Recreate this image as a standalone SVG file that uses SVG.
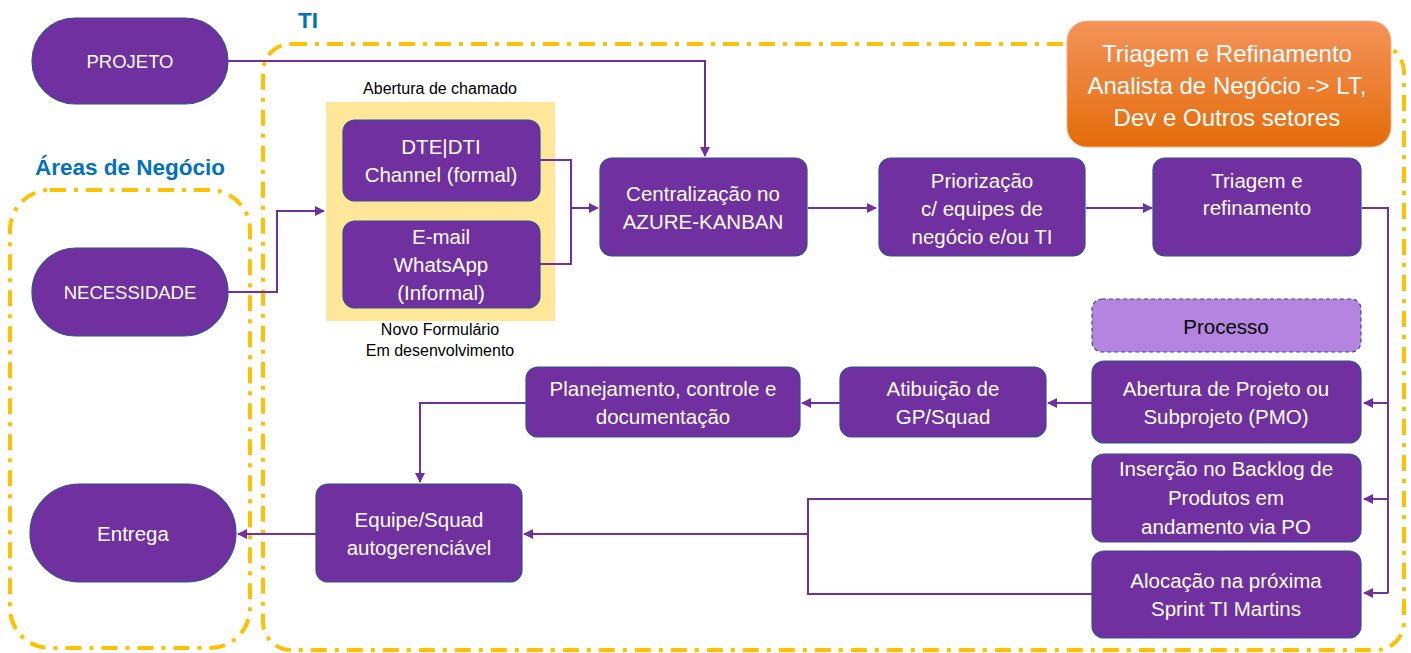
<svg xmlns="http://www.w3.org/2000/svg" width="1411" height="653" viewBox="0 0 1411 653">
<defs>
<style>
.cont{fill:none;stroke:#FFC000;stroke-width:4;stroke-dasharray:16 8 4 8}
.nd{fill:#7030A0;stroke:#2F528F;stroke-width:1.2}
.t{font-family:"Liberation Sans",Arial,sans-serif;font-size:20.5px;fill:#fff;text-anchor:middle}
.cap{font-size:18.5px}
.lbl{font-family:"Liberation Sans",Arial,sans-serif;font-size:16px;fill:#000;text-anchor:middle}
.ttl{font-family:"Liberation Sans",Arial,sans-serif;font-size:22.5px;font-weight:bold;fill:#0070C0}
.cn{fill:none;stroke:#7030A0;stroke-width:2}
</style>
<marker id="ah" viewBox="0 0 10 10" refX="9" refY="5" markerWidth="5" markerHeight="5" orient="auto-start-reverse" markerUnits="strokeWidth">
<path d="M0,0 L10,5 L0,10 z" fill="#7030A0"/>
</marker>
<linearGradient id="og" x1="0" y1="0" x2="0" y2="1">
<stop offset="0" stop-color="#F4935A"/>
<stop offset="1" stop-color="#E46C0A"/>
</linearGradient>
</defs>

<g id="containers">
<rect class="cont" x="263" y="44" width="1141" height="606" rx="28"/>
<rect class="cont" x="10" y="190" width="240" height="458" rx="40"/>
<text class="ttl" x="298" y="28">TI</text>
<text class="ttl" x="35" y="175">Áreas de Negócio</text>
</g>

<g id="orange">
<rect x="1067" y="21" width="324" height="126" rx="20" fill="url(#og)" stroke="#F4B183" stroke-width="1"/>
<text class="t" style="font-size:24px" x="1227" y="62">Triagem e Refinamento</text>
<text class="t" style="font-size:24px" x="1227" y="94">Analista de Negócio -&gt; LT,</text>
<text class="t" style="font-size:24px" x="1227" y="126">Dev e Outros setores</text>
</g>

<g id="abertura-chamado">
<rect x="326" y="102" width="229" height="219" fill="#FFE699"/>
<text class="lbl" x="440" y="94">Abertura de chamado</text>
<text class="lbl" x="440" y="335">Novo Formulário</text>
<text class="lbl" x="440" y="356">Em desenvolvimento</text>
</g>

<g id="connectors">
<path class="cn" d="M228,61 H705 V156" marker-end="url(#ah)"/>
<path class="cn" d="M228,292 H277 V211 H324" marker-end="url(#ah)"/>
<path class="cn" d="M540,160 H571 V264 H540"/>
<path class="cn" d="M571,208 H598" marker-end="url(#ah)"/>
<path class="cn" d="M808,208 H876" marker-end="url(#ah)"/>
<path class="cn" d="M1086,208 H1152" marker-end="url(#ah)"/>
<path class="cn" d="M1362,208 H1388 V593"/>
<path class="cn" d="M1388,403 H1364" marker-end="url(#ah)"/>
<path class="cn" d="M1388,499 H1364" marker-end="url(#ah)"/>
<path class="cn" d="M1388,593 H1364" marker-end="url(#ah)"/>
<path class="cn" d="M1092,403 H1048" marker-end="url(#ah)"/>
<path class="cn" d="M840,403 H802" marker-end="url(#ah)"/>
<path class="cn" d="M526,403 H420 V482" marker-end="url(#ah)"/>
<path class="cn" d="M1092,499 H808 V594 H1092"/>
<path class="cn" d="M808,534 H524" marker-end="url(#ah)"/>
<path class="cn" d="M316,534 H238" marker-end="url(#ah)"/>
</g>

<g id="projeto">
<rect class="nd" x="32" y="18" width="196" height="86" rx="43"/>
<text class="t cap" x="130" y="68">PROJETO</text>
</g>
<g id="necessidade">
<rect class="nd" x="32" y="248" width="196" height="88" rx="44"/>
<text class="t cap" x="130" y="299">NECESSIDADE</text>
</g>
<g id="entrega">
<rect class="nd" x="30" y="484" width="206" height="98" rx="49"/>
<text class="t" x="133" y="541">Entrega</text>
</g>

<g id="dte">
<rect class="nd" x="343" y="120" width="197" height="81" rx="12"/>
<text class="t" x="441" y="154">DTE|DTI</text>
<text class="t" x="441" y="182">Channel (formal)</text>
</g>
<g id="email">
<rect class="nd" x="343" y="221" width="197" height="87" rx="12"/>
<text class="t" x="441" y="244">E-mail</text>
<text class="t" x="441" y="272">WhatsApp</text>
<text class="t" x="441" y="300">(Informal)</text>
</g>

<g id="centralizacao">
<rect class="nd" x="600" y="158" width="207" height="98" rx="12"/>
<text class="t" x="703" y="201">Centralização no</text>
<text class="t" x="703" y="229">AZURE-KANBAN</text>
</g>
<g id="priorizacao">
<rect class="nd" x="879" y="158" width="206" height="98" rx="12"/>
<text class="t" x="982" y="188">Priorização</text>
<text class="t" x="982" y="216">c/ equipes de</text>
<text class="t" x="982" y="244">negócio e/ou TI</text>
</g>
<g id="triagem">
<rect class="nd" x="1153" y="158" width="208" height="98" rx="12"/>
<text class="t" x="1257" y="188">Triagem e</text>
<text class="t" x="1257" y="215">refinamento</text>
</g>

<g id="processo">
<rect x="1092" y="299" width="269" height="53" rx="10" fill="#B584E0" stroke="#2F528F" stroke-width="1.2" stroke-dasharray="4 3"/>
<text class="t" style="fill:#000" x="1226" y="334">Processo</text>
</g>
<g id="abertura-projeto">
<rect class="nd" x="1092" y="361" width="269" height="82" rx="12"/>
<text class="t" x="1226" y="396">Abertura de Projeto ou</text>
<text class="t" x="1226" y="424">Subprojeto (PMO)</text>
</g>
<g id="insercao">
<rect class="nd" x="1092" y="454" width="269" height="88" rx="12"/>
<text class="t" x="1226" y="476">Inserção no Backlog de</text>
<text class="t" x="1226" y="505">Produtos em</text>
<text class="t" x="1226" y="534">andamento via PO</text>
</g>
<g id="alocacao">
<rect class="nd" x="1092" y="551" width="269" height="87" rx="12"/>
<text class="t" x="1226" y="588">Alocação na próxima</text>
<text class="t" x="1226" y="616">Sprint TI Martins</text>
</g>

<g id="atribuicao">
<rect class="nd" x="840" y="367" width="206" height="70" rx="12"/>
<text class="t" x="943" y="396">Atibuição de</text>
<text class="t" x="943" y="424">GP/Squad</text>
</g>
<g id="planejamento">
<rect class="nd" x="526" y="367" width="274" height="70" rx="12"/>
<text class="t" x="663" y="396">Planejamento, controle e</text>
<text class="t" x="663" y="424">documentação</text>
</g>
<g id="equipe">
<rect class="nd" x="316" y="484" width="206" height="98" rx="12"/>
<text class="t" x="419" y="527">Equipe/Squad</text>
<text class="t" x="419" y="555">autogerenciável</text>
</g>
</svg>
